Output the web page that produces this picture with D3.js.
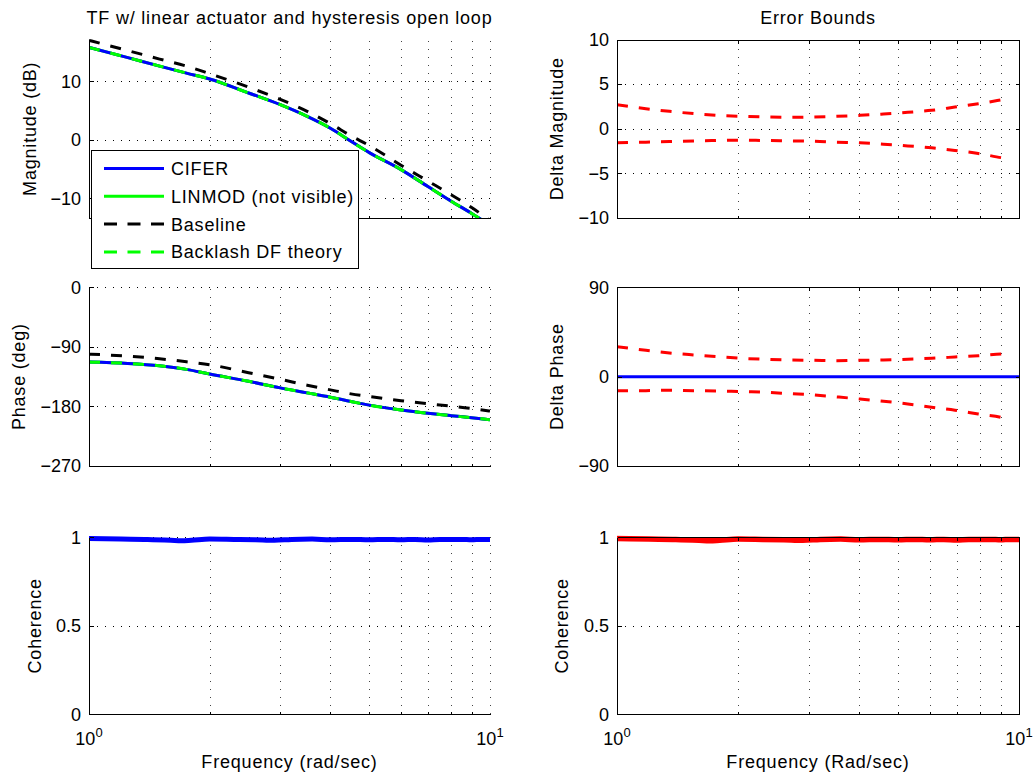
<!DOCTYPE html>
<html><head><meta charset="utf-8">
<script src="https://cdn.jsdelivr.net/npm/d3@7"></script>
<style>
body{margin:0;background:#fff}
svg{display:block;font-family:"Liberation Sans",Arial,Helvetica,sans-serif}
</style>
</head><body>
<svg id="chart" width="1033" height="775"></svg>
<script>
// ---------------- data ----------------
const freq = [1, 1.25, 1.5, 1.75, 2, 2.5, 3, 3.5, 4, 4.5, 5, 6, 7, 8, 9, 10];
const ciferMag     = [15.8, 14.05, 12.6, 11.4, 10.4, 8.0, 6.0, 4.0, 1.97, -0.25, -2.2, -5.1, -8.0, -10.5, -12.6, -14.6];
const linmodMag    = [15.8, 14.05, 12.6, 11.4, 10.4, 8.0, 6.0, 4.0, 1.97, -0.25, -2.2, -5.1, -8.0, -10.5, -12.6, -14.6];
const baselineMag  = [17.0, 15.25, 13.8, 12.6, 11.3, 9.0, 6.9, 4.86, 2.75, 0.68, -1.0, -4.36, -7.06, -9.4, -11.6, -13.8];
const backlashMag  = [15.8, 14.05, 12.6, 11.4, 10.4, 8.0, 6.0, 4.0, 1.97, -0.25, -2.2, -5.1, -8.0, -10.5, -12.6, -14.6];
const ciferPhase    = [-113, -115, -118.5, -124, -131, -142, -152, -159.5, -166, -172.5, -178, -185.3, -190.3, -194, -197, -200];
const linmodPhase   = [-113, -115, -118.5, -124, -131, -142, -152, -159.5, -166, -172.5, -178, -185.3, -190.3, -194, -197, -200];
const baselinePhase = [-101, -104, -108, -112.5, -117, -129, -139, -148, -155, -161, -165, -171.3, -176, -179.5, -183, -187];
const backlashPhase = [-113, -115, -118.5, -124, -131, -142, -152, -159.5, -166, -172.5, -178, -185.3, -190.3, -194, -197, -200];

const errFreq    = [1, 1.18, 1.35, 1.55, 1.78, 2.04, 2.33, 2.69, 3.08, 3.52, 4.02, 4.6, 5.29, 6.06, 6.93, 7.92, 9.1, 9.4];
const magUpper   = [2.7, 2.25, 1.95, 1.7, 1.5, 1.39, 1.32, 1.28, 1.32, 1.39, 1.5, 1.65, 1.84, 2.06, 2.43, 2.8, 3.26, 3.37];
const magLower   = [-1.58, -1.5, -1.43, -1.36, -1.32, -1.28, -1.32, -1.36, -1.39, -1.5, -1.58, -1.73, -1.92, -2.14, -2.43, -2.77, -3.26, -3.35];
const phaseUpper = [30.2, 26.6, 23.9, 21.9, 20.1, 18.5, 17.5, 16.8, 16.5, 16.1, 16.5, 16.8, 17.5, 18.5, 19.8, 21.1, 22.9, 23.2];
const phaseLower = [-14.1, -14.1, -13.7, -14.1, -14.4, -15.1, -15.7, -17.1, -18.4, -20.4, -22.5, -24.8, -27.5, -30.8, -33.8, -37.6, -41.3, -42.9];
const deltaFreq  = [1, 10];
const deltaPhase = [0, 0];

const cohFreq   = [1, 1.2, 1.4, 1.6, 1.7, 1.8, 2, 2.3, 2.6, 2.9, 3.2, 3.6, 4, 4.5, 5, 5.5, 6, 6.5, 7, 7.5, 8, 8.5, 9, 9.5, 10];
const cohCifer  = [0.993, 0.99, 0.988, 0.983, 0.98, 0.983, 0.99, 0.988, 0.986, 0.983, 0.988, 0.99, 0.986, 0.988, 0.986, 0.988, 0.986, 0.988, 0.985, 0.988, 0.987, 0.988, 0.986, 0.988, 0.988];
const cohErr    = [0.993, 0.99, 0.988, 0.983, 0.98, 0.983, 0.99, 0.988, 0.986, 0.983, 0.988, 0.99, 0.986, 0.988, 0.986, 0.988, 0.986, 0.988, 0.985, 0.988, 0.987, 0.988, 0.986, 0.988, 0.988];

const magTicks = [-10, 0, 10];
const phaseTicks = [-270, -180, -90, 0];
const cohTicks = [0, 0.5, 1];
const dMagTicks = [-10, -5, 0, 5, 10];
const dPhaseTicks = [-90, 0, 90];
const minorFreq = [2, 3, 4, 5, 6, 7, 8, 9];

const legendNames = ["CIFER", "LINMOD (not visible)", "Baseline", "Backlash DF theory"];

// ---------------- drawing ----------------
const svg = d3.select("#chart");
const FS = 18;
const LS = "0.8px";
const fmt = v => (v < 0 ? "\u2212" + Math.abs(v) : String(v));
let clipId = 0;

function panel(o) {
  const xs = d3.scaleLog().domain([1, 10]).range([o.x0, o.x1]);
  const ys = d3.scaleLinear().domain(o.domain).range([o.y1, o.y0]);
  const g = svg.append("g");
  const id = "clip" + (clipId++);
  svg.append("clipPath").attr("id", id).append("rect")
    .attr("x", o.x0).attr("y", o.y0 - 2).attr("width", o.x1 - o.x0).attr("height", o.y1 - o.y0 + 2);

  // grid
  const grid = g.append("g").attr("stroke", "#000").attr("stroke-width", 1)
    .attr("stroke-dasharray", "1,7").attr("shape-rendering", "crispEdges");
  const vgrid = o.box ? minorFreq : minorFreq.concat([10]);
  vgrid.forEach(f => {
    const x = Math.round(xs(f)) + 0.5;
    grid.append("line").attr("x1", x).attr("x2", x).attr("y1", o.y1).attr("y2", o.y0).attr("stroke", "#444");
  });
  o.ticks.forEach(t => {
    const y = Math.round(ys(t)) + 0.5;
    grid.append("line").attr("x1", o.x0).attr("x2", o.x1).attr("y1", y).attr("y2", y);
  });

  // data
  const dg = g.append("g").attr("clip-path", `url(#${id})`);
  o.series.forEach(s => {
    const line = d3.line().x(d => xs(d[0])).y(d => ys(d[1])).curve(d3.curveMonotoneX);
    dg.append("path").datum(s.x.map((f, i) => [f, s.y[i]]))
      .attr("d", line).attr("fill", "none").attr("stroke", s.color)
      .attr("stroke-width", s.w || 3).attr("stroke-dasharray", s.dash || null);
  });

  // axes
  const ax = g.append("g").attr("stroke", "#000").attr("stroke-width", 1).attr("shape-rendering", "crispEdges");
  const L = Math.round(o.x0) + 0.5, R = Math.round(o.x1) + 0.5, T = Math.round(o.y0) + 0.5, B = Math.round(o.y1) + 0.5;
  ax.append("line").attr("x1", L).attr("x2", L).attr("y1", T).attr("y2", B);
  ax.append("line").attr("x1", L).attr("x2", R).attr("y1", B).attr("y2", B);
  if (o.box) {
    ax.append("line").attr("x1", R).attr("x2", R).attr("y1", T).attr("y2", B);
    ax.append("line").attr("x1", L).attr("x2", R).attr("y1", T).attr("y2", T);
  }
  minorFreq.forEach(f => {
    const x = Math.round(xs(f)) + 0.5;
    ax.append("line").attr("x1", x).attr("x2", x).attr("y1", B).attr("y2", B - 3);
    if (o.box) ax.append("line").attr("x1", x).attr("x2", x).attr("y1", T).attr("y2", T + 3);
  });
  o.ticks.forEach(t => {
    const y = Math.round(ys(t)) + 0.5;
    ax.append("line").attr("x1", L).attr("x2", L + 4).attr("y1", y).attr("y2", y);
    if (o.box) ax.append("line").attr("x1", R).attr("x2", R - 4).attr("y1", y).attr("y2", y);
  });

  // tick labels
  o.ticks.forEach(t => {
    g.append("text").attr("x", o.x0 - 8).attr("y", ys(t)).attr("dy", "0.35em")
      .attr("text-anchor", "end").attr("font-size", FS).text(fmt(t));
  });

  // y label
  g.append("text").attr("transform", `translate(${o.ylabelX},${(o.y0 + o.y1) / 2}) rotate(-90)`)
    .attr("dy", "0.35em").attr("text-anchor", "middle").attr("font-size", FS)
    .attr("letter-spacing", LS).text(o.ylabel);

  if (o.title) {
    g.append("text").attr("x", (o.x0 + o.x1) / 2).attr("y", 24).attr("text-anchor", "middle")
      .attr("font-size", FS).attr("letter-spacing", LS).text(o.title);
  }
  if (o.xlabel) {
    [1, 10].forEach((f, i) => {
      const t = g.append("text").attr("x", xs(f)).attr("y", 745).attr("text-anchor", "middle").attr("font-size", FS);
      t.append("tspan").text("10");
      t.append("tspan").attr("dy", -8.5).attr("font-size", 13).text(String(i));
    });
    g.append("text").attr("x", (o.x0 + o.x1) / 2).attr("y", 768).attr("text-anchor", "middle")
      .attr("font-size", FS).attr("letter-spacing", LS).text(o.xlabel);
  }
  return { xs, ys, g };
}

const DASH = "11,11";
const BLUE = "#0000ff", GREEN = "#00ff00", BLACK = "#000000", RED = "#ff0000";

// Left column
const LX0 = 89, LX1 = 490, RX0 = 617, RX1 = 1019;
const ROW = [[39.5, 218], [287.3, 466], [537.3, 714.3]];

panel({
  x0: LX0, x1: LX1, y0: ROW[0][0], y1: ROW[0][1], domain: [-13.38, 17.15], ticks: magTicks, box: false,
  ylabel: "Magnitude (dB)", ylabelX: 30, title: "TF w/ linear actuator and hysteresis open loop",
  series: [
    { x: freq, y: linmodMag, color: GREEN },
    { x: freq, y: ciferMag, color: BLUE },
    { x: freq, y: baselineMag, color: BLACK, dash: DASH },
    { x: freq, y: backlashMag, color: GREEN, dash: DASH }
  ]
});
panel({
  x0: LX0, x1: LX1, y0: ROW[1][0], y1: ROW[1][1], domain: [-270, 0], ticks: phaseTicks, box: false,
  ylabel: "Phase (deg)", ylabelX: 19,
  series: [
    { x: freq, y: linmodPhase, color: GREEN },
    { x: freq, y: ciferPhase, color: BLUE },
    { x: freq, y: baselinePhase, color: BLACK, dash: DASH },
    { x: freq, y: backlashPhase, color: GREEN, dash: DASH }
  ]
});
panel({
  x0: LX0, x1: LX1, y0: ROW[2][0], y1: ROW[2][1], domain: [0, 1], ticks: cohTicks, box: false,
  ylabel: "Coherence", ylabelX: 35, xlabel: "Frequency (rad/sec)",
  series: [{ x: cohFreq, y: cohCifer, color: BLUE, w: 5 }]
});

// Right column
panel({
  x0: RX0, x1: RX1, y0: ROW[0][0], y1: ROW[0][1], domain: [-10, 10], ticks: dMagTicks, box: true,
  ylabel: "Delta Magnitude", ylabelX: 556.5, title: "Error Bounds",
  series: [
    { x: errFreq, y: magUpper, color: RED, dash: DASH },
    { x: errFreq, y: magLower, color: RED, dash: DASH }
  ]
});
panel({
  x0: RX0, x1: RX1, y0: ROW[1][0], y1: ROW[1][1], domain: [-90, 90], ticks: dPhaseTicks, box: true,
  ylabel: "Delta Phase", ylabelX: 556.5,
  series: [
    { x: deltaFreq, y: deltaPhase, color: BLUE },
    { x: errFreq, y: phaseUpper, color: RED, dash: DASH },
    { x: errFreq, y: phaseLower, color: RED, dash: DASH }
  ]
});
panel({
  x0: RX0, x1: RX1, y0: ROW[2][0], y1: ROW[2][1], domain: [0, 1], ticks: cohTicks, box: true,
  ylabel: "Coherence", ylabelX: 561.5, xlabel: "Frequency (Rad/sec)",
  series: [{ x: cohFreq, y: cohErr, color: RED, w: 5.5 }]
});

// Legend
const leg = svg.append("g");
leg.append("rect").attr("x", 91.5).attr("y", 150.5).attr("width", 267).attr("height", 118)
  .attr("fill", "#fff").attr("stroke", "#000").attr("stroke-width", 1).attr("shape-rendering", "crispEdges");
const legStyle = [
  { color: BLUE, dash: null },
  { color: GREEN, dash: null },
  { color: BLACK, dash: "13,10.5" },
  { color: GREEN, dash: "13,10.5" }
];
legendNames.forEach((name, i) => {
  const yb = 175 + i * 27.8;
  leg.append("line").attr("x1", 104).attr("x2", 164).attr("y1", yb - 6.5).attr("y2", yb - 6.5)
    .attr("stroke", legStyle[i].color).attr("stroke-width", 3).attr("stroke-dasharray", legStyle[i].dash);
  leg.append("text").attr("x", 171).attr("y", yb).attr("font-size", FS).attr("letter-spacing", LS).text(name);
});
</script>
</body></html>
